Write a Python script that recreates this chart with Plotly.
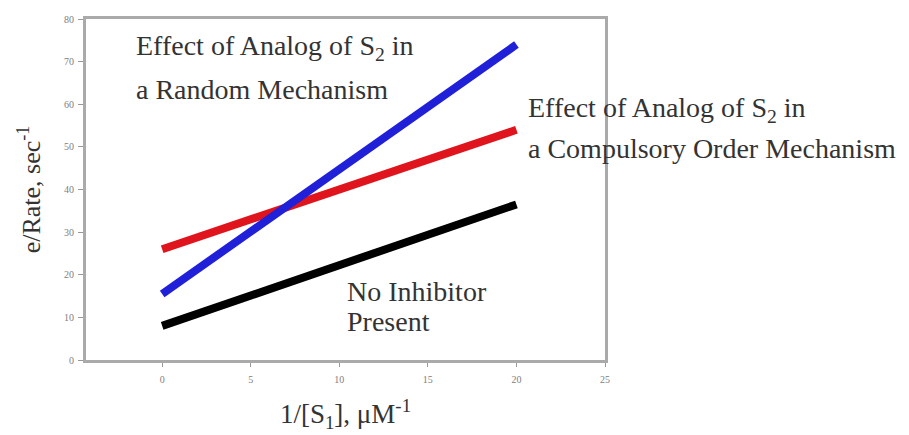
import plotly.graph_objects as go

x_vals = [0, 20]
no_inhibitor = [8, 36.5]
random_mech = [15.5, 74]
compulsory = [26, 54]

x_ticks = [0, 5, 10, 15, 20, 25]
y_ticks = [0, 10, 20, 30, 40, 50, 60, 70, 80]

fig = go.Figure()
fig.add_trace(go.Scatter(x=x_vals, y=compulsory, mode="lines",
                         line=dict(color="#e0141c", width=8)))
fig.add_trace(go.Scatter(x=x_vals, y=random_mech, mode="lines",
                         line=dict(color="#2020d8", width=8)))
fig.add_trace(go.Scatter(x=x_vals, y=no_inhibitor, mode="lines",
                         line=dict(color="#000000", width=8)))

font_serif = "Liberation Serif, Times New Roman, serif"
ann_font = dict(family=font_serif, size=28, color="#333333")

labels = [
    (-1.6, 73.4, "Effect of Analog of S<sub>2</sub> in"),
    (-1.6, 63.4, "a Random Mechanism"),
    (20.55, 58.7, "Effect of Analog of S<sub>2</sub> in"),
    (20.55, 49.6, "a Compulsory Order Mechanism"),
    (10.3, 16.1, "No Inhibitor"),
    (10.3, 9.1, "Present"),
]
for lx, ly, txt in labels:
    fig.add_annotation(x=lx, y=ly, xref="x", yref="y", xanchor="left", yanchor="middle",
                       text=txt, showarrow=False, font=ann_font, align="left")

fig.update_layout(
    width=909, height=435,
    margin=dict(l=78, r=312, t=11, b=83),
    paper_bgcolor="white", plot_bgcolor="white",
    showlegend=False,
    font=dict(family=font_serif),
    xaxis=dict(range=[-4.3, 25], tickvals=x_ticks, showgrid=False, zeroline=False,
               showline=True, linecolor="#aaaaaa", linewidth=3, mirror=True,
               ticks="outside", ticklen=4, tickcolor="#999999", automargin=False,
               ticklabelstandoff=4,
               tickfont=dict(size=10, color="#808080", family=font_serif),
               title=dict(text="1/[S<sub>1</sub>], μM<sup>-1</sup>",
                          font=dict(size=27, color="#333333", family=font_serif),
                          standoff=21)),
    yaxis=dict(range=[0, 80], tickvals=y_ticks, showgrid=False, zeroline=False,
               showline=True, linecolor="#aaaaaa", linewidth=3, mirror=True,
               ticks="outside", ticklen=5, tickcolor="#999999", automargin=False,
               ticklabelstandoff=2,
               tickfont=dict(size=10, color="#808080", family=font_serif),
               title=dict(text="e/Rate, sec<sup>-1</sup>",
                          font=dict(size=26, color="#333333", family=font_serif),
                          standoff=16)),
)

fig.write_html("out.html")
